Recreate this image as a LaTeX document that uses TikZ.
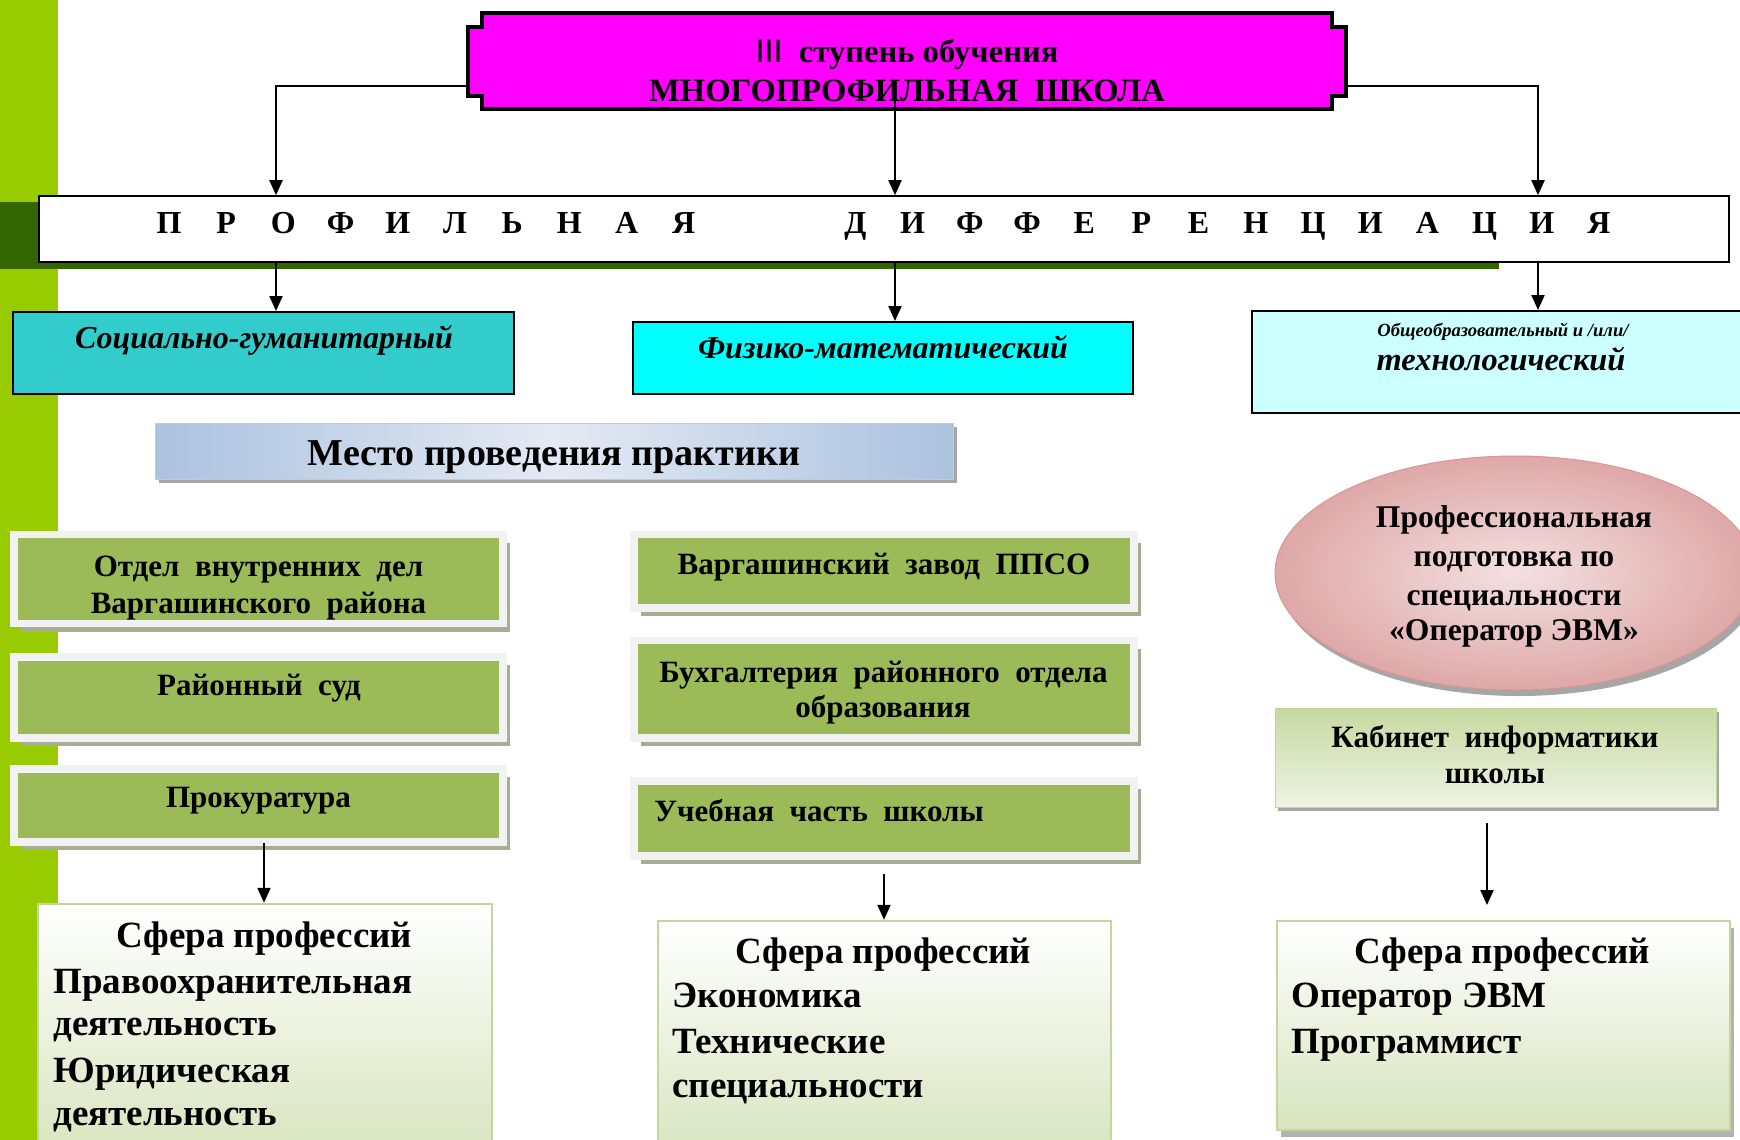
\documentclass[tikz,border=0pt]{standalone}
\usepackage{fontspec}
\setmainfont{Liberation Serif}
\newfontfamily\sansLS{Liberation Sans}
\usetikzlibrary{arrows.meta,fit,shapes.geometric,shadows}
\definecolor{limeg}{HTML}{99CC00}
\definecolor{dkg}{HTML}{336600}
\definecolor{magen}{HTML}{FF00FF}
\definecolor{tealc}{HTML}{33CCCC}
\definecolor{cyanc}{HTML}{00FFFF}
\definecolor{lcyan}{HTML}{CCFFFF}
\definecolor{oliveg}{HTML}{9BBB59}
\definecolor{framec}{HTML}{F2F2F2}
\definecolor{shadg}{HTML}{A5AD93}
\definecolor{bluel}{HTML}{E3EAF4}
\definecolor{blued}{HTML}{ABC2E0}
\definecolor{blueb}{HTML}{B8CCE4}
\definecolor{pinkl}{HTML}{F4E0E0}
\definecolor{pinkd}{HTML}{DEA8A7}
\definecolor{pinkb}{HTML}{D99694}
\definecolor{cabd}{HTML}{C6D9A0}
\definecolor{cabl}{HTML}{EEF4E4}
\definecolor{sphg}{HTML}{D7E4BD}
\definecolor{sphb}{HTML}{C3D69B}
\newcommand\lsl[1]{\makebox[28.6pt][c]{#1}}
\begin{document}
\begin{tikzpicture}[x=0.5pt,y=-0.5pt,
  arr/.style={line width=1pt,-{Triangle[length=7.5pt,width=6.5pt]}},
  txt/.style={inner sep=0pt,anchor=base},
  txtl/.style={inner sep=0pt,anchor=base west},
  ftop/.style={font=\fontsize{16.3pt}{18pt}\selectfont\bfseries},
  fell/.style={font=\fontsize{15.8pt}{18pt}\selectfont\bfseries},
  fprof/.style={font=\fontsize{16pt}{18pt}\selectfont\bfseries},
  fcat/.style={font=\fontsize{16pt}{18pt}\selectfont\bfseries\itshape},
  fsmall/.style={font=\fontsize{9.3pt}{11pt}\selectfont\bfseries\itshape},
  ftech/.style={font=\fontsize{16.2pt}{18pt}\selectfont\bfseries\itshape},
  fmesto/.style={font=\fontsize{19pt}{22pt}\selectfont\bfseries},
  fgreen/.style={font=\fontsize{15.5pt}{18pt}\selectfont\bfseries},
  fsph/.style={font=\fontsize{18.5pt}{22pt}\selectfont\bfseries},
  catbox/.style={inner sep=0pt,draw=black,line width=1pt},
  gbox/.style={inner sep=0pt,fill=oliveg,draw=framec,line width=3.75pt,
    drop shadow={shadow xshift=3.5pt,shadow yshift=-4pt,fill=shadg,opacity=1}},
  sphbox/.style={inner sep=0pt,draw=sphb,line width=1.2pt,top color=white,bottom color=sphg},
]
\path[use as bounding box] (0,0) rectangle (1740,1140);
\clip (0,0) rectangle (1740,1140);
\fill[white] (0,0) rectangle (1740,1140);
\fill[limeg] (0,0) rectangle (58,1140);
\fill[dkg] (0,202) rectangle (1499,269);

% top box
\filldraw[fill=magen,draw=black,line width=2pt]
  (482,13) -- (1332,13) -- (1332,27) -- (1346,27) -- (1346,96) -- (1332,96) -- (1332,109)
  -- (482,109) -- (482,96) -- (468,96) -- (468,27) -- (482,27) -- cycle;
\node[fit={(466,11) (1348,111)},inner sep=0pt] (top) {};
\node[txt,ftop] (t1) at (907,62) {{\sansLS\mdseries III}\ \ ступень обучения};
\node[txt,ftop] (t2) at (907,101) {МНОГОПРОФИЛЬНАЯ\ \ ШКОЛА};

% profile box
\node[fit={(39,196) (1729,262)},inner sep=0pt,draw=black,line width=0.8pt,fill=white] (prof) {};
\node[txt,fprof] (profT) at (884,233) {\lsl{П}\lsl{Р}\lsl{О}\lsl{Ф}\lsl{И}\lsl{Л}\lsl{Ь}\lsl{Н}\lsl{А}\lsl{Я}\lsl{}\lsl{}\lsl{Д}\lsl{И}\lsl{Ф}\lsl{Ф}\lsl{Е}\lsl{Р}\lsl{Е}\lsl{Н}\lsl{Ц}\lsl{И}\lsl{А}\lsl{Ц}\lsl{И}\lsl{Я}};

% category boxes
\node[catbox,fill=tealc,fit={(13,312) (514,394)}] (soc) {};
\node[txt,fcat] (socT) at (264,348) {Социально-гуманитарный};
\node[catbox,fill=cyanc,fit={(633,322) (1133,394)}] (pm) {};
\node[txt,fcat] (pmT) at (883,358) {Физико-математический};
\node[catbox,fill=lcyan,fit={(1252,311) (1760,413)}] (tech) {};
\node[txt,fsmall] (techA) at (1503,336) {Общеобразовательный и /или/};
\node[txt,ftech] (techB) at (1501,370) {технологический};

% connectors
\coordinate (jL) at (276,86);
\coordinate (jR) at (1538,86);
\coordinate (jM) at (895,98);
\draw[arr] (top.west |- jL) -- (jL) -- (jL |- prof.north);
\draw[arr] (top.east |- jR) -- (jR) -- (jR |- prof.north);
\draw[arr] (jM) -- (jM |- prof.north);
\draw[arr] (jL |- prof.south) -- (jL |- soc.north);
\draw[arr] (jM |- prof.south) -- (jM |- pm.north);
\draw[arr] (jR |- prof.south) -- (jR |- tech.north);

% practice place
\node[fit={(155,423) (953,479)},inner sep=0pt,draw=blueb,line width=0.5pt,
  left color=blued,right color=blued,middle color=bluel,
  drop shadow={shadow xshift=2pt,shadow yshift=-2pt,fill=black!35,opacity=1}] (mesto) {};
\node[txt,fmesto] (mestoT) at (554,465) {Место проведения практики};

% left green boxes
\node[gbox,fit={(14,534.5) (503,623.5)}] (l1) {};
\node[txt,fgreen] (l1a) at (258.5,576) {Отдел\ \ внутренних\ \ дел};
\node[txt,fgreen] (l1b) at (258.5,613) {Варгашинского\ \ района};
\node[gbox,fit={(14,657) (503,738)}] (l2) {};
\node[txt,fgreen] (l2T) at (259,695) {Районный\ \ суд};
\node[gbox,fit={(14,769) (503,842)}] (l3) {};
\node[txt,fgreen] (l3T) at (258.5,807) {Прокуратура};

% middle green boxes
\node[gbox,fit={(634,534.5) (1134,608)}] (m1) {};
\node[txt,fgreen] (m1T) at (884,574) {Варгашинский\ \ завод\ \ ППСО};
\node[gbox,fit={(634,640.5) (1134,738)}] (m2) {};
\node[txt,fgreen] (m2a) at (883.5,682) {Бухгалтерия\ \ районного\ \ отдела};
\node[txt,fgreen] (m2b) at (883,717) {образования};
\node[gbox,fit={(634,781) (1134,856)}] (m3) {};
\node[txtl,fgreen] (m3T) at (654,821) {Учебная\ \ часть\ \ школы};

% ellipse
\node[ellipse,minimum width=240pt,minimum height=117pt,inner sep=0pt,draw=pinkb,line width=0.5pt,
  inner color=pinkl,outer color=pinkd,
  drop shadow={shadow xshift=2pt,shadow yshift=-3pt,fill=black!35,opacity=1}] (ell) at (1515,573) {};
\node[txt,fell] (e1) at (1514,527) {Профессиональная};
\node[txt,fell] (e2) at (1514,566) {подготовка\ по};
\node[txt,fell] (e3) at (1514,605) {специальности};
\node[txt,fell] (e4) at (1514,640) {«Оператор\ ЭВМ»};

% cabinet
\node[fit={(1275,708) (1716,807)},inner sep=0pt,draw=sphb,line width=0.5pt,
  top color=cabd,bottom color=cabl,
  drop shadow={shadow xshift=1.5pt,shadow yshift=-2pt,fill=black!35,opacity=1}] (cab) {};
\node[txt,fgreen] (cabA) at (1495,747) {Кабинет\ \ информатики};
\node[txt,fgreen] (cabB) at (1495,783) {школы};

% spheres
\node[sphbox,fit={(38,904) (492,1160)}] (s1) {};
\node[txt,fsph] (s1T) at (264.5,947) {Сфера профессий};
\node[txtl,fsph] (s1a) at (53,993) {Правоохранительная};
\node[txtl,fsph] (s1b) at (53,1035) {деятельность};
\node[txtl,fsph] (s1c) at (53,1082) {Юридическая};
\node[txtl,fsph] (s1d) at (53,1125) {деятельность};

\node[sphbox,fit={(658,921) (1111,1160)}] (s2) {};
\node[txt,fsph] (s2T) at (883.5,963) {Сфера профессий};
\node[txtl,fsph] (s2a) at (672,1007) {Экономика};
\node[txtl,fsph] (s2b) at (672,1053) {Технические};
\node[txtl,fsph] (s2c) at (672,1097) {специальности};

\node[sphbox,fit={(1277,921) (1730,1130)},
  drop shadow={shadow xshift=2pt,shadow yshift=-3.5pt,fill=black!30,opacity=1}] (s3) {};
\node[txt,fsph] (s3T) at (1502.5,963) {Сфера профессий};
\node[txtl,fsph] (s3a) at (1291,1007) {Оператор ЭВМ};
\node[txtl,fsph] (s3b) at (1291,1053) {Программист};

% lower connectors
\coordinate (aL) at (264,843);
\coordinate (aM) at (884,874);
\coordinate (aR) at (1487,823);
\coordinate (aRe) at (1487,905);
\draw[arr] (aL) -- (aL |- s1.north);
\draw[arr] (aM) -- (aM |- s2.north);
\draw[arr] (aR) -- (aRe);
\end{tikzpicture}
\end{document}
